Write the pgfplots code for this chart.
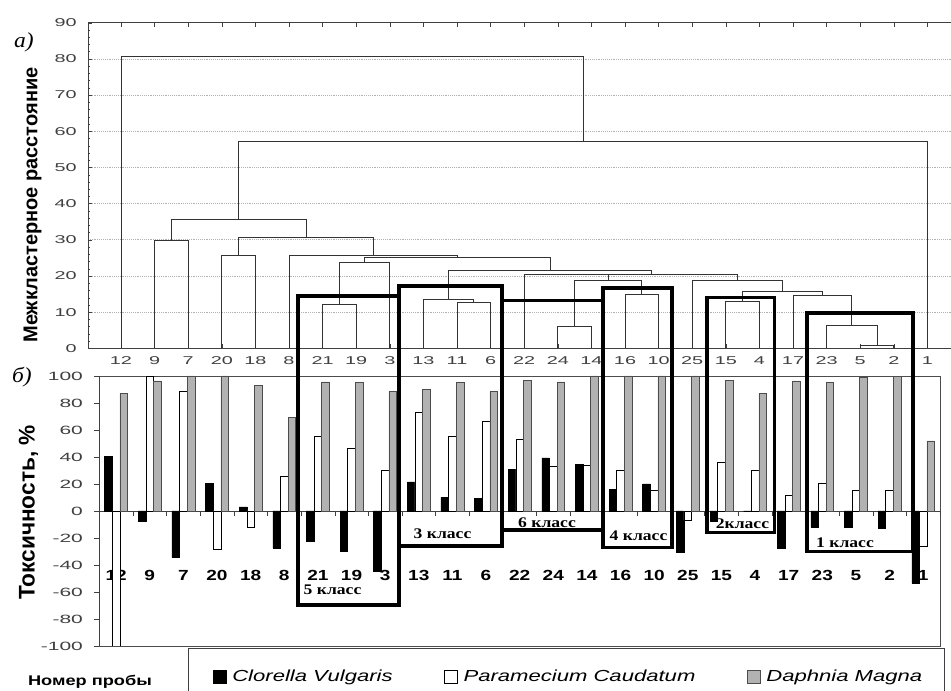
\documentclass[border=0pt]{standalone}
\usepackage{pgfplots}
\pgfplotsset{compat=1.18}
\usepackage{pgfplotstable}
\usepackage{fontspec}
\setmainfont{Liberation Sans}
\newfontfamily\dendfont[FakeStretch=1.75]{Liberation Sans}
\newfontfamily\tickfont[FakeStretch=1.75]{Liberation Sans}
\newfontfamily\catfont[FakeStretch=1.3]{Liberation Sans}
\newfontfamily\legfont[FakeStretch=1.38]{Liberation Sans}
\newfontfamily\klfont[FakeStretch=1.2]{Liberation Serif}
\newfontfamily\lblfont[FakeStretch=1.1]{Liberation Serif}

% bar data: order of samples 12 9 7 20 18 8 21 19 3 13 11 6 22 24 14 16 10 25 15 4 17 23 5 2 1
\pgfplotstableread{
i   C      P      D
0   40.7  -130    87.2
1   -7.4   100    96.3
2  -34.6   88.9   100
3   20.7  -28.6   100
4    3.0  -11.9   93.3
5  -27.7   25.9   69.6
6  -22.2   55.1   95.6
7  -29.9   46.7   95.1
8  -44.4   30.1   88.6
9   21.5   72.8   90.1
10  10.1   55.1   95.1
11   9.1   66.4   88.6
12  30.9   53.1   97.0
13  39.3   33.3   95.6
14  34.3   33.6   100
15  16.0   30.1   100
16  20.0   15.1   100
17 -30.4   -6.7   100
18  -7.4   35.8   97.0
19   0.0   30.1   87.2
20 -27.7   11.9   96.3
21 -11.9   20.5   95.1
22 -11.9   15.3   98.8
23 -12.6   15.3   99.5
24 -53.6  -25.9   51.9
}\bars

\definecolor{dgray}{RGB}{178,178,178}
\tikzset{dend/.style={black!80, line width=0.6pt}}

\begin{document}
\begin{tikzpicture}
\useasboundingbox (0,0) rectangle (713.25pt,518.25pt);
\clip (0,0) rectangle (713.25pt,518.25pt);

% ---------------- dendrogram (a) ----------------
\begin{axis}[
  at={(66pt,257.025pt)}, anchor=south west,
  width=650.25pt, height=244.2pt, scale only axis,
  xmin=0.01786, xmax=25.821, ymin=0, ymax=90,
  /pgf/number format/assume math mode=true,
  xtick={1,...,25},
  xticklabels={12,9,7,20,18,8,21,19,3,13,11,6,22,24,14,16,10,25,15,4,17,23,5,2,1},
  ytick={0,10,...,90},
  minor y tick num=4,
  ytick pos=left,
  tick align=inside,
  major tick length=3pt, minor tick length=1.8pt,
  ymajorgrids, major grid style={densely dotted, black!30},
  axis line style={black!75, line width=0.6pt},
  tick style={black!75},
  tick label style={font=\dendfont\fontsize{8.5}{10}\selectfont, text=black!75},
  xticklabel style={yshift=-2.5pt},
  yticklabel style={xshift=-5pt},
]
\addplot[dend] coordinates {(7,0)(7,12.2)(8,12.2)(8,0)};
\addplot[dend] coordinates {(7.5,12.2)(7.5,23.7)(9,23.7)(9,0)};
\addplot[dend] coordinates {(11,0)(11,12.6)(12,12.6)(12,0)};
\addplot[dend] coordinates {(10,0)(10,13.5)(11.5,13.5)(11.5,12.6)};
\addplot[dend] coordinates {(14,0)(14,6.0)(15,6.0)(15,0)};
\addplot[dend] coordinates {(16,0)(16,14.9)(17,14.9)(17,0)};
\addplot[dend] coordinates {(14.5,6.0)(14.5,18.7)(16.5,18.7)(16.5,14.9)};
\addplot[dend] coordinates {(13,0)(13,20.3)(15.5,20.3)(15.5,18.7)};
\addplot[dend] coordinates {(19,0)(19,12.9)(20,12.9)(20,0)};
\addplot[dend] coordinates {(23,0)(23,0.9)(24,0.9)(24,0)};
\addplot[dend] coordinates {(22,0)(22,6.3)(23.5,6.3)(23.5,0.9)};
\addplot[dend] coordinates {(21,0)(21,14.6)(22.75,14.6)(22.75,6.3)};
\addplot[dend] coordinates {(19.5,12.9)(19.5,15.75)(21.875,15.75)(21.875,14.6)};
\addplot[dend] coordinates {(18,0)(18,18.7)(20.6875,18.7)(20.6875,15.75)};
\addplot[dend] coordinates {(14.25,20.3)(14.25,20.5)(19.34375,20.5)(19.34375,18.7)};
\addplot[dend] coordinates {(10.75,13.5)(10.75,21.4)(16.796875,21.4)(16.796875,20.5)};
\addplot[dend] coordinates {(8.25,23.7)(8.25,25.1)(13.7734375,25.1)(13.7734375,21.4)};
\addplot[dend] coordinates {(6,0)(6,25.7)(11.01171875,25.7)(11.01171875,25.1)};
\addplot[dend] coordinates {(4,0)(4,25.7)(5,25.7)(5,0)};
\addplot[dend] coordinates {(4.5,25.7)(4.5,30.6)(8.505859375,30.6)(8.505859375,25.7)};
\addplot[dend] coordinates {(2,0)(2,29.7)(3,29.7)(3,0)};
\addplot[dend] coordinates {(2.5,29.7)(2.5,35.7)(6.5029296875,35.7)(6.5029296875,30.6)};
\addplot[dend] coordinates {(4.50146484375,35.7)(4.50146484375,57.2)(25,57.2)(25,0)};
\addplot[dend] coordinates {(1,0)(1,80.6)(14.750732421875,80.6)(14.750732421875,57.2)};
\end{axis}

% ---------------- bar chart (b) ----------------
\begin{axis}[
  at={(74.475pt,33.75pt)}, anchor=south west,
  width=630.525pt, height=202.5pt, scale only axis,
  xmin=-0.5, xmax=24.5, ymin=-100, ymax=100,
  /pgf/number format/assume math mode=true,
  axis x line*=middle, axis y line*=left,
  axis background/.style={draw=black!70, line width=0.6pt},
  axis line style={black!75, line width=0.6pt},
  ybar=0pt, bar width=0.226,
  xtick={0,...,24},
  xticklabels={12,9,7,20,18,8,21,19,3,13,11,6,22,24,14,16,10,25,15,4,17,23,5,2,1},
  major x tick style={draw=none},
  minor xtick={-0.5,0.5,...,24.5},
  xtick align=outside,
  minor tick length=3.75pt,
  major tick length=3.75pt,
  xticklabel style={anchor=base, yshift=-48.5pt,
       font=\catfont\bfseries\fontsize{11}{13}\selectfont},
  ytick={-100,-80,...,100},
  ytick align=outside,
  tick style={black!75},
  yticklabel style={xshift=-5pt, font=\tickfont\fontsize{9}{11}\selectfont, text=black!75},
  legend columns=3,
  legend cell align=left,
  legend image code/.code={\path (0pt,0pt); \draw[#1] (3.5pt,-4.9pt) rectangle (13.25pt,4.9pt);},
  legend style={at={(0.10515,-0.1148)}, anchor=west,
     draw=black!75, line width=0.6pt, inner xsep=15pt, inner ysep=14pt,
     font=\legfont\itshape\fontsize{12}{14}\selectfont,
     /tikz/every odd column/.append style={column sep=2.5pt},
     /tikz/column 2/.append style={column sep=33pt},
     /tikz/column 4/.append style={column sep=33pt}},
]
\addplot[fill=black, draw=black, line width=0.4pt] table[x=i, y=C] {\bars};
\addplot[fill=white, draw=black, line width=0.4pt] table[x=i, y=P] {\bars};
\addplot[fill=dgray, draw=black!70, line width=0.4pt] table[x=i, y=D] {\bars};
\legend{Clorella Vulgaris, Paramecium Caudatum, Daphnia Magna}
\end{axis}

% ---------------- annotations (pixel coordinates) ----------------
\begin{scope}[x=0.75pt, y=-0.75pt, shift={(0pt,518.25pt)}]
\begin{scope}[line width=2.7pt, black]
\draw (297.7,296) rectangle (399,605);
\draw (399,286) rectangle (501.7,546);
\draw (501.7,300.7) rectangle (603,530);
\draw (603,288.3) rectangle (671.7,547.7);
\draw (706.7,297.7) rectangle (774.5,532.5);
\draw (806.7,313.3) rectangle (912.7,551.7);
\end{scope}
\begin{scope}[font=\klfont\bfseries\fontsize{11}{13}\selectfont]
\node at (332.5,590) {5 класс};
\node at (442.5,534) {3 класс};
\node at (547,522.7) {6 класс};
\node at (638.5,536) {4 класс};
\node at (742.5,524) {2класс};
\node at (845,542.7) {1 класс};
\end{scope}
\node[font=\lblfont\itshape\fontsize{16}{18}\selectfont] at (24,42) {а)};
\node[font=\lblfont\itshape\fontsize{16}{18}\selectfont] at (22,377) {б)};
\node[rotate=90, font=\bfseries\fontsize{15}{17}\selectfont] at (32.5,205) {Межкластерное расстояние};
\node[rotate=90, font=\bfseries\fontsize{17}{19}\selectfont] at (28.5,512.5) {Токсичность, \%};
\node[font=\catfont\bfseries\fontsize{10.5}{12}\selectfont] at (90,681.5) {Номер пробы};
\end{scope}
\end{tikzpicture}
\end{document}
